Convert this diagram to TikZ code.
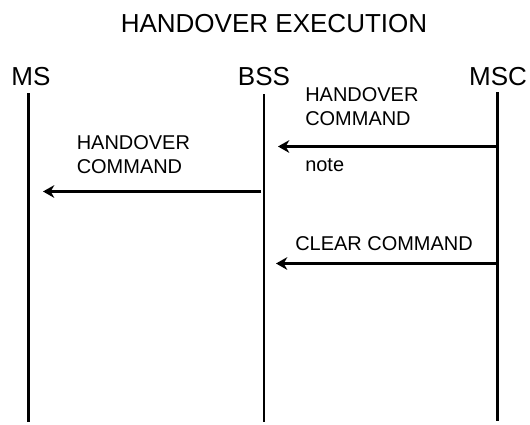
\documentclass[tikz,border=0pt]{standalone}
\usepackage{fontspec}
\setmainfont{Liberation Sans}
\usepackage{tikz}
\usetikzlibrary{arrows.meta}
\usetikzlibrary{positioning}

\tikzset{
  actor/.style={anchor=base, inner sep=0pt, font=\fontsize{18.5}{22}\selectfont},
  msgtext/.style={anchor=base west, inner sep=0pt, align=left, font=\fontsize{14.2}{17.1}\selectfont},
  lifeline/.style={line width=1.6pt},
  msg/.style={line width=1.6pt, -{Stealth[length=8pt, width=9pt, inset=2.5pt]}}
}

\begin{document}
\begin{tikzpicture}[x=0.025cm, y=-0.025cm]
        \useasboundingbox (0, 0) rectangle (530, 424);
        \node [actor] (title) at (274, 32) {HANDOVER EXECUTION};
        \node [actor] (ms) at (31, 85) {MS};
        \node [actor] (bss) at (264, 85.5) {BSS};
        \node [actor] (msc) at (498, 85) {MSC};
        \coordinate (mstop) at (28.5, 93);
        \coordinate (msbot) at (28.5, 422);
        \coordinate (bsstop) at (264, 94);
        \coordinate (bssbot) at (264, 422);
        \coordinate (msctop) at (497.5, 92);
        \coordinate (mscbot) at (497.5, 421);
        \draw [lifeline] (mstop)--(msbot);
        \draw [lifeline] (bsstop)--(bssbot);
        \draw [lifeline] (msctop)--(mscbot);
        \coordinate (h1s) at (497.5, 146.5);
        \coordinate (h1e) at (278, 146.5);
        \coordinate (h2s) at (261, 191.5);
        \coordinate (h2e) at (43, 191.5);
        \coordinate (c1s) at (497.5, 263.5);
        \coordinate (c1e) at (276, 263.5);
        \draw [msg] (h1s)--(h1e);
        \draw [msg] (h2s)--(h2e);
        \draw [msg] (c1s)--(c1e);
        \node [msgtext] (h1) at (305, 125.8) {HANDOVER\\COMMAND};
        \node [msgtext] (note) at (305, 171.7) {note};
        \node [msgtext] (h2) at (76.5, 173.3) {HANDOVER\\COMMAND};
        \node [msgtext] (c1) at (295, 250) {CLEAR COMMAND};
      \end{tikzpicture}
\end{document}
